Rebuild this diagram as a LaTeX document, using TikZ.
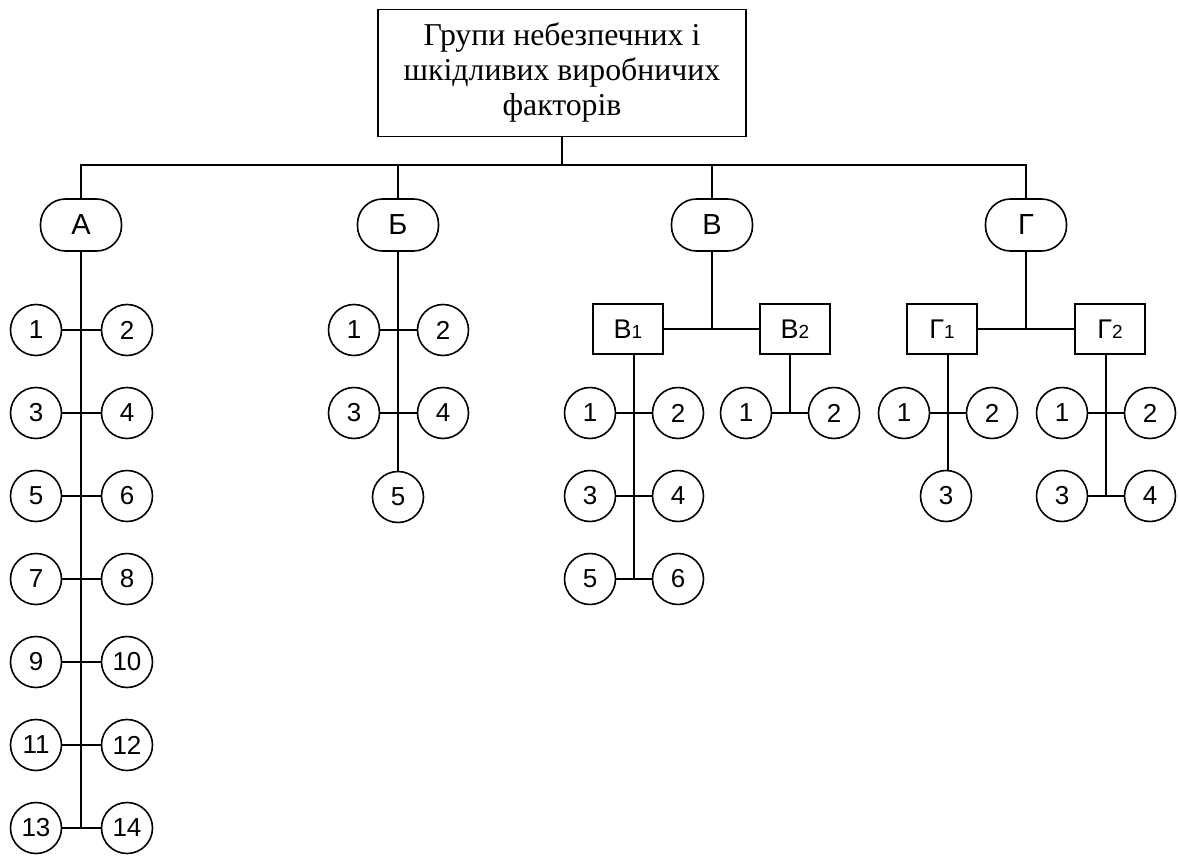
\documentclass[tikz,border=0pt]{standalone}
\usepackage{fontspec}
\setmainfont{Liberation Serif}
\setsansfont{Liberation Sans}
\newcommand{\subidx}[1]{{\fontsize{19}{19}\selectfont #1}}
\begin{document}
\begin{tikzpicture}[x=1pt,y=-1pt,line width=1.6pt,
  mainbox/.style={draw,align=center,minimum width=368pt,minimum height=127pt,
    inner xsep=2pt,font=\fontsize{31.8}{35}\selectfont},
  group/.style={draw,rounded corners=25pt,minimum width=81pt,minimum height=52pt,
    inner sep=0pt,font=\sffamily\fontsize{29}{29}\selectfont},
  subgroup/.style={draw,minimum width=70pt,minimum height=50pt,inner sep=0pt,
    font=\sffamily\fontsize{27}{27}\selectfont},
  item/.style={draw,circle,minimum size=51pt,inner sep=0pt,
    font=\sffamily\fontsize{26}{26}\selectfont}]
  \useasboundingbox (0,0) rectangle (1178,859);

  % Main box and bus
  \node[mainbox] (top) at (562,73) {Групи небезпечних і\\шкідливих виробничих\\факторів};
  \coordinate (bus) at (0,165);

  % Groups
  \node[group] (gA) at (81,225) {А};
  \node[group] (gB) at (398,225) {Б};
  \node[group] (gV) at (712,225) {В};
  \node[group] (gG) at (1026,225) {Г};
  \draw (top.south) -- (top.south |- bus);
  \draw (gA.north) |- (gG.north |- bus) -- (gG.north);
  \draw (gB.north) -- (gB.north |- bus);
  \draw (gV.north) -- (gV.north |- bus);

  % Group A items
  \foreach \r in {1,...,7} {
    \pgfmathtruncatemacro{\lf}{2*\r-1}
    \pgfmathtruncatemacro{\rt}{2*\r}
    \node[item] (a\lf) at (36,247+83*\r) {\lf};
    \node[item] (a\rt) at (127,247+83*\r) {\rt};
    \draw (a\lf) -- (a\rt);
  }
  \draw (gA.south) -- (gA.south |- a13);

  % Group B items
  \node[item] (b1) at (354,330) {1};
  \node[item] (b2) at (443,330) {2};
  \node[item] (b3) at (354,413) {3};
  \node[item] (b4) at (443,413) {4};
  \node[item] (b5) at (398,497) {5};
  \draw (b1) -- (b2);
  \draw (b3) -- (b4);
  \draw (gB.south) -- (b5);

  % Group V
  \node[subgroup] (v1) at (628,329) {В\subidx{1}};
  \node[subgroup] (v2) at (795,329) {В\subidx{2}};
  \draw (v1) -- (v2);
  \draw (gV.south) -- (gV.south |- v1);
  \foreach \r in {1,2,3} {
    \pgfmathtruncatemacro{\lf}{2*\r-1}
    \pgfmathtruncatemacro{\rt}{2*\r}
    \node[item] (v1\lf) at (590,330+83*\r) {\lf};
    \node[item] (v1\rt) at (678,330+83*\r) {\rt};
  }
  \path (v11) -- coordinate[pos=0.5] (v1m) (v12);
  \draw (v11) -- (v12);
  \draw (v13) -- (v14);
  \draw (v15) -- (v16);
  \draw (v1m |- v1.south) -- (v1m |- v15);
  \node[item] (v21) at (746,413) {1};
  \node[item] (v22) at (834,413) {2};
  \path (v21) -- coordinate[pos=0.5] (v2m) (v22);
  \draw (v21) -- (v22);
  \draw (v2m |- v2.south) -- (v2m);

  % Group G
  \node[subgroup] (g1) at (942,329) {Г\subidx{1}};
  \node[subgroup] (g2) at (1110,329) {Г\subidx{2}};
  \draw (g1) -- (g2);
  \draw (gG.south) -- (gG.south |- g1);
  \node[item] (g11) at (904,413) {1};
  \node[item] (g12) at (992,413) {2};
  \node[item] (g13) at (946,496) {3};
  \path (g11) -- coordinate[pos=0.5] (g1m) (g12);
  \draw (g11) -- (g12);
  \draw (g1m |- g1.south) -- (g1m |- g13.north);
  \node[item] (g21) at (1062,413) {1};
  \node[item] (g22) at (1150,413) {2};
  \node[item] (g23) at (1062,496) {3};
  \node[item] (g24) at (1150,496) {4};
  \path (g21) -- coordinate[pos=0.5] (g2m) (g22);
  \draw (g21) -- (g22);
  \draw (g23) -- (g24);
  \draw (g2m |- g2.south) -- (g2m |- g23);
\end{tikzpicture}
\end{document}
